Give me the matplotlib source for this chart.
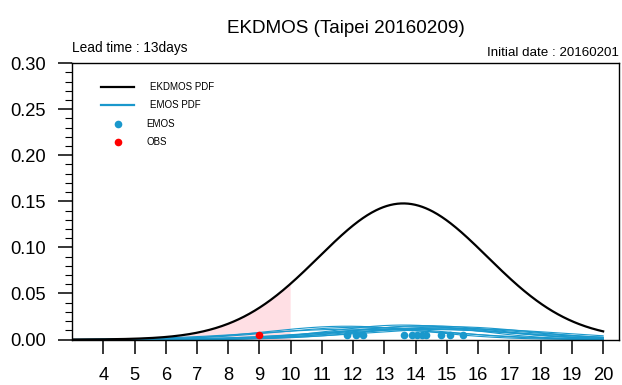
import numpy as np
import matplotlib
matplotlib.use("Agg")
from matplotlib import pyplot as plt
from matplotlib.ticker import MultipleLocator, FormatStrFormatter

plt.rcParams['font.family'] = ['Liberation Sans', 'DejaVu Sans']

# EKDMOS forecast distribution (normal)
ekd_mean = 13.6
ekd_sd = 2.7

# EMOS member forecasts (temperature) and their spread
emos_mean = [11.80, 12.08, 12.30, 13.61, 13.89, 14.05, 14.21, 14.32, 14.80, 15.10, 15.52]
emos_sd = [2.5, 3.2, 2.7, 2.3, 3.0, 2.6, 3.3, 2.4, 2.9, 2.6, 3.1]

obs_value = 9.0
marker_y = 0.005
shade_max = 10.0

x_ticks = list(range(4, 21))


def normal_pdf(x, mu, sd):
    return np.exp(-0.5 * ((x - mu) / sd) ** 2) / (sd * np.sqrt(2 * np.pi))


x = np.linspace(3, 20, 600)
ekd = normal_pdf(x, ekd_mean, ekd_sd)
n = len(emos_mean)

fig = plt.figure(figsize=(6.22, 3.85), dpi=100)
ax = fig.add_axes([0.1158, 0.118, 0.879, 0.718])

mask = x <= shade_max
ax.fill_between(x[mask], 0, ekd[mask], color='#ffdfe4', lw=0, zorder=1)

blue = '#1a98cc'
for mu, sd in zip(emos_mean, emos_sd):
    ax.plot(x, normal_pdf(x, mu, sd) / n, color=blue, lw=0.8, zorder=2)
ax.plot(x, ekd, color='black', lw=1.6, zorder=3)

ax.plot(emos_mean, [marker_y] * n, 'o', color=blue, ms=5.5, mec='none', zorder=4)
ax.plot([obs_value], [marker_y], 'o', color='red', ms=5.5, mec='none', zorder=5)

ax.set_xlim(3, 20.5)
ax.set_ylim(0, 0.30)
ax.set_xticks(x_ticks)
ax.yaxis.set_major_locator(MultipleLocator(0.05))
ax.yaxis.set_minor_locator(MultipleLocator(0.01))
ax.yaxis.set_major_formatter(FormatStrFormatter('%.2f'))
ax.tick_params(axis='both', which='major', direction='out', length=10, width=1.1,
               labelsize=13.2)
ax.tick_params(axis='x', which='major', pad=10)
ax.tick_params(axis='y', which='major', pad=9)
ax.tick_params(axis='y', which='minor', direction='out', length=5, width=0.8)
for s in ax.spines.values():
    s.set_linewidth(1.0)

ax.set_title('EKDMOS (Taipei 20160209)', fontsize=13.6, pad=22)
ax.text(0.0, 1.03, 'Lead time : 13days', transform=ax.transAxes, fontsize=9.8,
        ha='left', va='bottom')
ax.text(1.0, 1.015, 'Initial date : 20160201', transform=ax.transAxes, fontsize=9.6,
        ha='right', va='bottom')

# legend drawn by hand in axes coordinates
lx0, lx1, tx = 0.053, 0.114, 0.1426
rows = [0.913, 0.847, 0.779, 0.714]
ax.plot([lx0, lx1], [rows[0]] * 2, color='black', lw=1.6, transform=ax.transAxes)
ax.plot([lx0, lx1], [rows[1]] * 2, color=blue, lw=1.6, transform=ax.transAxes)
ax.plot([(lx0 + lx1) / 2], [rows[2]], 'o', color=blue, ms=5.5, mec='none',
        transform=ax.transAxes)
ax.plot([(lx0 + lx1) / 2], [rows[3]], 'o', color='red', ms=5.5, mec='none',
        transform=ax.transAxes)
for y, label in zip(rows, ['EKDMOS PDF', 'EMOS PDF', 'EMOS', 'OBS']):
    ax.text(tx if label.endswith('PDF') else tx - 0.006, y, label,
            transform=ax.transAxes, fontsize=7, va='center', ha='left')

fig.savefig('out.png', dpi=100)
